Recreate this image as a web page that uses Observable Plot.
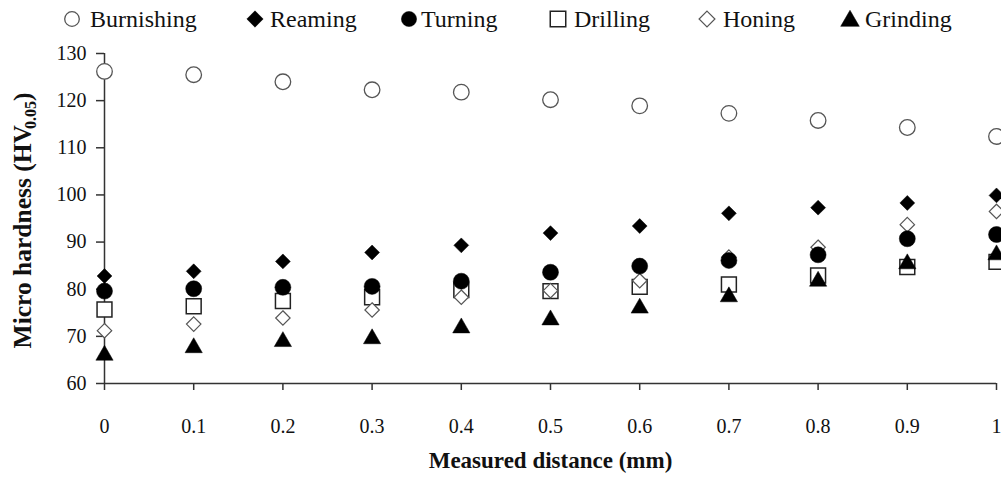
<!DOCTYPE html>
<html><head><meta charset="utf-8">
<script src="https://cdn.jsdelivr.net/npm/d3@7"></script>
<script src="https://cdn.jsdelivr.net/npm/@observablehq/plot@0.6"></script>
<style>
body{margin:0;background:#fff;}
#chart{width:1001px;}
#legend{display:block;}
svg text{font-family:"Liberation Serif","Times New Roman",serif;}
</style></head><body><div id="chart"></div>
<script>
// ---- data ----
const distance = [0, 0.1, 0.2, 0.3, 0.4, 0.5, 0.6, 0.7, 0.8, 0.9, 1];
const yTicks = [60, 70, 80, 90, 100, 110, 120, 130];
const burnishing = [126.2, 125.5, 124.0, 122.3, 121.8, 120.2, 118.9, 117.3, 115.8, 114.3, 112.4];
const reaming    = [82.8, 83.8, 85.9, 87.8, 89.3, 91.9, 93.4, 96.1, 97.3, 98.3, 99.9];
const turning    = [79.6, 80.1, 80.4, 80.6, 81.7, 83.6, 84.9, 86.1, 87.3, 90.7, 91.6];
const drilling   = [75.7, 76.4, 77.5, 78.3, 79.8, 79.6, 80.5, 81.0, 82.9, 84.7, 85.8];
const honing     = [71.2, 72.6, 73.9, 75.6, 78.3, 79.7, 81.8, 86.8, 88.9, 93.7, 96.5];
const grinding   = [66.5, 68.1, 69.4, 70.0, 72.3, 74.0, 76.5, 78.9, 82.2, 85.9, 87.8];
const seriesNames = ["Burnishing", "Reaming", "Turning", "Drilling", "Honing", "Grinding"];

// ---- styles ----
const styles = {
  Burnishing: {values: burnishing, symbol: "circle",   r: 7.8, fill: "white", stroke: "#555", strokeWidth: 1.3, dy: 0},
  Reaming:    {values: reaming,    symbol: "diamond2", r: 6.7, fill: "black", stroke: "black", strokeWidth: 0.5, dy: 0},
  Turning:    {values: turning,    symbol: "circle",   r: 8.0, fill: "black", stroke: "black", strokeWidth: 0.5, dy: 0},
  Drilling:   {values: drilling,   symbol: "square",   r: 8.4, fill: "white", stroke: "#222", strokeWidth: 1.5, dy: 0},
  Honing:     {values: honing,     symbol: "diamond2", r: 6.5, fill: "white", stroke: "#555", strokeWidth: 1.2, dy: 0},
  Grinding:   {values: grinding,   symbol: "triangle", r: 6.4, fill: "black", stroke: "black", strokeWidth: 0.5, dy: 2.4}
};
const drawOrder = ["Burnishing", "Reaming", "Drilling", "Honing", "Turning", "Grinding"];
const legendLayout = {
  Burnishing: {sx: 72, tx: 90}, Reaming: {sx: 255, tx: 270}, Turning: {sx: 409, tx: 421},
  Drilling: {sx: 558, tx: 574}, Honing: {sx: 707, tx: 723}, Grinding: {sx: 850, tx: 865}
};
const legendSym = {
  Burnishing: {type: d3.symbolCircle, size: Math.PI * 7.3 * 7.3},
  Reaming: {type: d3.symbolDiamond2, size: 170},
  Turning: {type: d3.symbolCircle, size: Math.PI * 7.6 * 7.6},
  Drilling: {type: d3.symbolSquare, size: 240},
  Honing: {type: d3.symbolDiamond2, size: 160},
  Grinding: {type: d3.symbolTriangle, size: 150}
};

// ---- legend ----
const chart = document.getElementById("chart");
const legend = d3.create("svg").attr("id", "legend").attr("width", 1001).attr("height", 36);
for (const name of seriesNames) {
  const s = styles[name], L = legendLayout[name], ls = legendSym[name];
  const yc = name === "Grinding" ? 21 : 19;
  legend.append("path")
    .attr("d", d3.symbol(ls.type, ls.size)())
    .attr("transform", `translate(${L.sx},${yc})`)
    .attr("fill", s.fill).attr("stroke", s.stroke).attr("stroke-width", s.strokeWidth);
  legend.append("text").attr("x", L.tx).attr("y", 27)
    .attr("font-size", 24).attr("fill", "#111").text(name);
}
chart.appendChild(legend.node());

// ---- plot ----
const marks = [];
for (const name of drawOrder) {
  const s = styles[name];
  marks.push(Plot.dot(distance, {
    x: d => d, y: (d, i) => s.values[i],
    symbol: s.symbol, r: s.r, fill: s.fill, stroke: s.stroke, strokeWidth: s.strokeWidth, dy: s.dy
  }));
}
const yTitle = "Micro hardness (HV0.05)";
const plot = Plot.plot({
  width: 1001, height: 441,
  marginTop: 17, marginBottom: 94, marginLeft: 104, marginRight: 5,
  style: {fontFamily: "'Liberation Serif','Times New Roman',serif", color: "#111", background: "white"},
  x: {domain: [0, 1]},
  y: {domain: [60, 130]},
  marks: [
    Plot.axisY({ticks: yTicks, tickSize: 8, tickPadding: 10, fontSize: 20, strokeWidth: 1.5, stroke: "#333", label: null}),
    Plot.axisX({ticks: distance, tickSize: 7, tickPadding: 28, fontSize: 20, strokeWidth: 1.5, stroke: "#333",
                tickFormat: d => String(d), label: null}),
    Plot.ruleX([0], {stroke: "#333", strokeWidth: 1.5}),
    Plot.ruleY([60], {stroke: "#333", strokeWidth: 1.5}),
    Plot.text(["Measured distance (mm)"], {frameAnchor: "bottom", dy: 84, fontSize: 23, fontWeight: "bold", fill: "#111"}),
    Plot.text([yTitle], {frameAnchor: "left", textAnchor: "middle", dx: -82, dy: 2, rotate: -90, fontSize: 25.5, fontWeight: "bold", fill: "#111"}),
    ...marks
  ]
});
chart.appendChild(plot);

// subscript in y title
d3.select(plot).selectAll("text").filter(function() { return this.textContent === yTitle; })
  .each(function() {
    const t = d3.select(this);
    t.text(null);
    t.append("tspan").text("Micro hardness (HV");
    t.append("tspan").attr("font-size", 16).attr("dy", 5).attr("dx", -4).text("0.05");
    t.append("tspan").attr("dy", -5).text(")");
  });
</script></body></html>
